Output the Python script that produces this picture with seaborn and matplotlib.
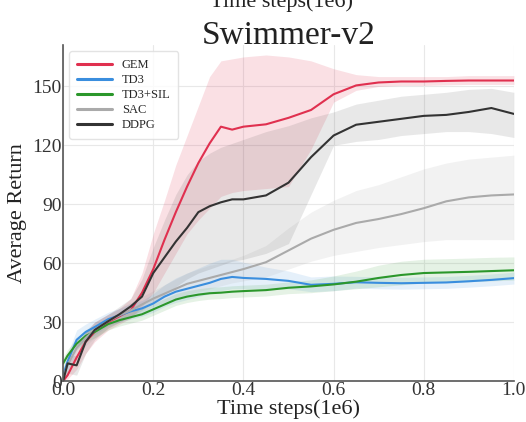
import pandas as pd
import matplotlib
matplotlib.use("Agg")
import matplotlib.pyplot as plt
import seaborn as sns

#  Data 
steps = [0, 0.01, 0.03, 0.05, 0.07, 0.1, 0.125, 0.15, 0.175, 0.2, 0.225, 0.25,
         0.275, 0.3, 0.325, 0.35, 0.375, 0.4, 0.45, 0.5, 0.55, 0.6, 0.65, 0.7,
         0.75, 0.8, 0.85, 0.9, 0.95, 1.0]

gem_mean = [0, 3, 12, 20, 25, 30, 33, 36, 45, 57, 72, 86, 99, 111, 121, 129.5,
            128, 129.5, 130.7, 134, 138, 146, 150.5, 152, 152.5, 152.5, 152.8, 153, 153, 153]
gem_upper = [2, 6, 17, 25, 30, 34, 37, 42, 55, 75, 92, 110, 125, 140, 155, 163,
             164, 165, 166, 165, 163, 159, 156, 155, 155, 155, 155, 155.5, 155.5, 155.5]
gem_lower = [0, 1, 6, 14, 20, 26, 29, 32, 38, 45, 55, 65, 75, 82, 88, 94,
             96, 97, 98, 99, 118, 142, 148, 150, 150.5, 150.5, 150.8, 151, 151, 151]

td3_mean = [3, 10, 21, 25, 27.5, 31.5, 33.5, 35.5, 37, 39.5, 43, 45.5, 47, 48.5, 50, 52,
            53, 52.5, 52, 51, 49, 49.5, 50.3, 50, 49.8, 50, 50.2, 50.8, 51.5, 52.4]
td3_upper = [5, 14, 26, 29, 31.5, 35, 37, 39.5, 41, 44.5, 49, 52.5, 55, 57.5, 60, 62,
             62, 60.5, 58, 56, 53, 53.5, 53.3, 53, 52.8, 53, 53.2, 53.8, 54.5, 55.4]
td3_lower = [1, 6, 16, 21, 23.5, 28, 30, 31.5, 33, 35, 38, 40, 41.5, 43, 44.5, 46,
             47, 47, 47, 47, 45.5, 46, 47.3, 47, 46.8, 47, 47.2, 47.8, 48.5, 49.4]

sil_mean = [9, 13, 19, 23, 25, 29, 31, 32.5, 34, 36.5, 39, 41.5, 43, 44, 44.7, 45,
            45.5, 45.8, 46.3, 47.5, 48.2, 49.2, 50.6, 52.5, 54, 55, 55.3, 55.6, 56, 56.4]
sil_upper = [12, 16, 22, 26, 28, 32, 34, 35.5, 37, 39.5, 42, 44.5, 46, 47, 47.7, 48,
             48.5, 48.8, 49.3, 50.5, 51.5, 53.5, 56, 59, 61, 62, 62.3, 62.6, 63, 63.2]
sil_lower = [6, 10, 16, 20, 22, 26, 28, 29.5, 31, 33.5, 36, 38.5, 40, 41, 41.7, 42,
             42.5, 42.8, 43.3, 44.5, 45, 46, 47, 48, 49, 50, 50.3, 50.6, 51, 51.4]

sac_mean = [2, 8, 17, 22, 26, 30.5, 33.5, 36, 39, 42, 44.5, 47, 49.5, 51, 52.5, 54,
            55.5, 57, 60.5, 66.5, 72.5, 77, 80.5, 82.5, 85, 88, 91.5, 93.5, 94.5, 95]
sac_upper = [4, 11, 21, 26, 30, 34, 37, 40, 43, 46, 49, 52, 55, 57, 59, 60,
             62, 64, 69, 78, 86, 92, 97, 100, 104, 108, 111, 113, 114, 115]
sac_lower = [0, 5, 13, 18, 22, 27, 30, 32, 35, 38, 40, 42, 44, 45.5, 47, 48.5,
             50, 51, 53, 57, 61, 64, 66, 68, 69.5, 71, 72, 72, 72, 72]

ddpg_mean = [0, 9, 8, 20, 26, 30.5, 34, 38, 43, 55, 63, 71, 78, 86, 89, 91,
             92.5, 92.5, 94.5, 101, 114, 125, 130.5, 132, 133.5, 135, 135.5, 137, 139, 136]
ddpg_upper = [2, 13, 13, 25, 30, 34, 38, 42, 52, 68, 82, 95, 105, 112, 116, 119,
              121, 123, 127, 130, 134, 137, 141, 143, 145, 146, 147, 148.5, 149, 147]
ddpg_lower = [0, 4, 3, 14, 21, 27, 30, 33, 36, 40, 44, 48, 52, 55, 57, 59,
              61, 62, 65, 70, 95, 120, 122, 123, 125, 126, 127, 127, 126, 124]

algos = ["GEM", "TD3", "TD3+SIL", "SAC", "DDPG"]
colors = {"GEM": "#e0304f", "TD3": "#3a8ede", "TD3+SIL": "#2b972b",
          "SAC": "#aaaaaa", "DDPG": "#333333"}
band_alpha = {"GEM": 0.15, "TD3": 0.13, "TD3+SIL": 0.12, "SAC": 0.15, "DDPG": 0.11}

series = {
    "GEM": (gem_mean, gem_lower, gem_upper),
    "TD3": (td3_mean, td3_lower, td3_upper),
    "TD3+SIL": (sil_mean, sil_lower, sil_upper),
    "SAC": (sac_mean, sac_lower, sac_upper),
    "DDPG": (ddpg_mean, ddpg_lower, ddpg_upper),
}

df = pd.concat(
    [pd.DataFrame({"t": steps, "ret": series[a][0], "algo": a}) for a in algos],
    ignore_index=True,
)

#  Plot 
sns.set_style("whitegrid", {"grid.color": "#e8e8e8", "axes.edgecolor": "#555555"})
plt.rcParams["font.family"] = ["Liberation Serif", "DejaVu Serif"]

fig = plt.figure(figsize=(5.26, 4.22), dpi=100)
ax = fig.add_axes([0.12, 0.097, 0.857, 0.796])

# shaded spread first so the lines sit on top
for a in algos:
    _, lo, hi = series[a]
    ax.fill_between(steps, lo, hi, color=colors[a], alpha=band_alpha[a], linewidth=0)

sns.lineplot(data=df, x="t", y="ret", hue="algo", hue_order=algos,
             palette=colors, estimator=None, linewidth=1.5, ax=ax)

ax.set_xlim(0, 1.0)
ax.set_ylim(0, 171)
ax.set_xticks([0, 0.2, 0.4, 0.6, 0.8, 1.0])
ax.set_xticklabels(["0.0", "0.2", "0.4", "0.6", "0.8", "1.0"])
ax.set_yticks([0, 30, 60, 90, 120, 150])
ax.tick_params(axis="both", labelsize=14, length=0, pad=1, colors="#333333")
ax.set_xlabel("Time steps(1e6)", fontsize=16, labelpad=0, color="#222222")
ax.set_ylabel("Average Return", fontsize=16, labelpad=4, color="#222222")
ax.set_title("Swimmer-v2", fontsize=24, pad=1, color="#222222")

for side in ["top", "right"]:
    ax.spines[side].set_visible(False)
for side in ["left", "bottom"]:
    ax.spines[side].set_linewidth(1.2)

leg = ax.legend(loc="upper left", fontsize=9, frameon=True, handlelength=2.8,
                borderpad=0.6, labelspacing=0.25, bbox_to_anchor=(0.0, 1.0))
leg.get_frame().set_edgecolor("#dddddd")
for line in leg.get_lines():
    line.set_linewidth(2.2)

# cut-off axis label of the panel above
fig.text(0.535, 0.995, "Time steps(1e6)", fontsize=16, ha="center", va="center",
         color="#222222")

fig.savefig("out.png", dpi=100)
